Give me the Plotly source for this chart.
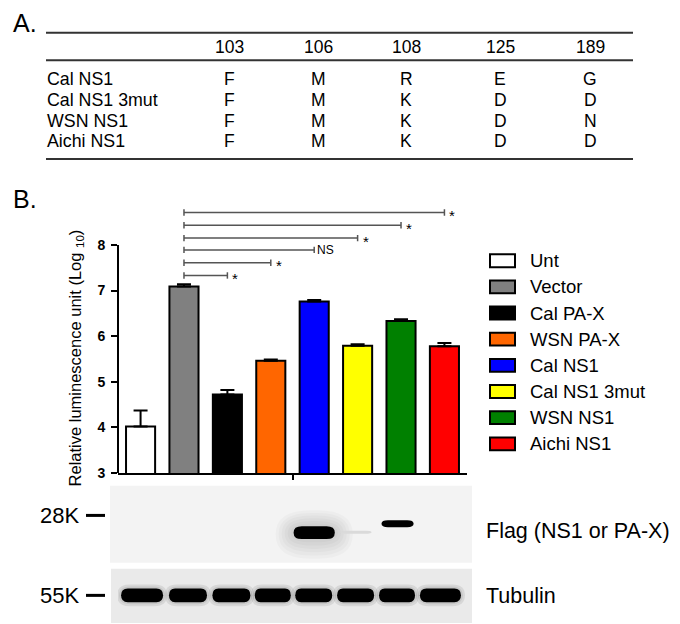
import plotly.graph_objects as go

W, H = 680, 624
FONT = "Liberation Sans, Arial, sans-serif"

# ---- panel A: residue table ----
sites = ["103", "106", "108", "125", "189"]
strains = ["Cal NS1", "Cal NS1 3mut", "WSN NS1", "Aichi NS1"]
residues = [
    ["F", "M", "R", "E", "G"],
    ["F", "M", "K", "D", "D"],
    ["F", "M", "K", "D", "N"],
    ["F", "M", "K", "D", "D"],
]

# ---- panel B: luciferase reporter ----
groups = ["Unt", "Vector", "Cal PA-X", "WSN PA-X", "Cal NS1",
          "Cal NS1 3mut", "WSN NS1", "Aichi NS1"]
log_lum = [4.02, 7.09, 4.72, 5.46, 6.76, 5.79, 6.33, 5.78]
sem = [0.35, 0.05, 0.10, 0.03, 0.03, 0.03, 0.04, 0.07]
colors = ["#ffffff", "#808080", "#000000", "#ff6600", "#0000ff",
          "#ffff00", "#008000", "#ff0000"]

# comparisons against Vector (index 1)
comp_to = [2, 3, 4, 5, 6, 7]
comp_y = [7.33, 7.61, 7.89, 8.15, 8.43, 8.71]
comp_lab = ["*", "*", "NS", "*", "*", "*"]

# western blot band strength per lane (0 = none)
flag_signal = [0, 0, 0, 0, 1.0, 0.12, 0.85, 0]
tubulin_signal = [1, 1, 1, 1, 1, 1, 1, 1]


def px(x):
    return x / W


def py(y):
    return 1 - y / H


def ann(text, x, y, size, xanchor="center", yanchor="middle", **kw):
    return dict(text=text, x=px(x), y=py(y), xref="paper", yref="paper",
                xanchor=xanchor, yanchor=yanchor, showarrow=False,
                font=dict(size=size, family=FONT, color="black"), **kw)


def band_path(x0, x1, y0, y1, r=0.12):
    rr = (x1 - x0) * r
    ym = (y0 + y1) / 2
    return (f"M{x0+rr},{y0} L{x1-rr},{y0} Q{x1},{y0} {x1},{ym} "
            f"Q{x1},{y1} {x1-rr},{y1} L{x0+rr},{y1} Q{x0},{y1} {x0},{ym} "
            f"Q{x0},{y0} {x0+rr},{y0} Z")


fig = go.Figure()
fig.add_trace(go.Bar(
    x=list(range(len(groups))), y=log_lum, width=0.67,
    marker=dict(color=colors, line=dict(color="black", width=2)),
    error_y=dict(type="data", array=sem, arrayminus=[0] * len(sem),
                 symmetric=False, color="black", thickness=2, width=7),
    hoverinfo="skip",
))

shapes = []
annotations = []

# table
col_x = [221, 310, 398, 492, 582]
for yy in (25, 53, 153):
    shapes.append(dict(type="line", xref="paper", yref="paper",
                       x0=px(38), x1=px(625), y0=py(yy), y1=py(yy),
                       line=dict(color="#333333", width=2)))
for s, cx in zip(sites, col_x):
    annotations.append(ann(s, cx, 40, 17.5))
for i, name in enumerate(strains):
    ry = 72 + 21 * i
    annotations.append(ann(name, 37, ry, 17.8, xanchor="left"))
    for aa, cx in zip(residues[i], col_x):
        annotations.append(ann(aa, cx, ry, 17.5))

annotations.append(ann("A.", 3, 15, 25, xanchor="left"))
annotations.append(ann("B.", 3, 193, 25, xanchor="left"))

# y axis line from 3 to 8 only
shapes.append(dict(type="line", xref="paper", yref="y", x0=px(110), x1=px(110),
                   y0=3, y1=8, line=dict(color="black", width=2)))

# significance brackets
cap = 0.07
for j, lab, yv in zip(comp_to, comp_lab, comp_y):
    shapes.append(dict(type="line", xref="x", yref="y", x0=1, x1=j, y0=yv, y1=yv,
                       line=dict(color="#555555", width=1.5)))
    for xe in (1, j):
        shapes.append(dict(type="line", xref="x", yref="y", x0=xe, x1=xe,
                           y0=yv - cap, y1=yv + cap,
                           line=dict(color="#555555", width=1.5)))
    if lab == "*":
        annotations.append(dict(text=lab, x=j, y=yv, xref="x", yref="y",
                                xanchor="left", yanchor="middle", showarrow=False,
                                xshift=3, yshift=-3,
                                font=dict(size=15, family=FONT, color="black")))
    else:
        annotations.append(dict(text=lab, x=j, y=yv, xref="x", yref="y",
                                xanchor="left", yanchor="middle", showarrow=False,
                                xshift=1,
                                font=dict(size=12, family=FONT, color="black")))

annotations.append(dict(text="Relative luminescence unit (Log <sub>10</sub>)",
                        x=px(68), y=py(355), xref="paper", yref="paper",
                        xanchor="center", yanchor="middle",
                        textangle=-90, showarrow=False,
                        font=dict(size=16.5, family=FONT, color="black")))

# legend
leg_y = [256, 282.5, 309, 335.5, 362, 388.5, 415, 441.5]
for name, col, ly in zip(groups, colors, leg_y):
    shapes.append(dict(type="rect", xref="paper", yref="paper",
                       x0=px(482), x1=px(507), y0=py(ly - 6.5), y1=py(ly + 6.5),
                       fillcolor=col, line=dict(color="black", width=2)))
    annotations.append(ann(name, 520, ly, 18.5, xanchor="left"))

# blots
shapes.append(dict(type="rect", xref="paper", yref="paper", layer="below",
                   x0=px(102), x1=px(464), y0=py(484), y1=py(562),
                   fillcolor="#f3f3f3", line=dict(width=0)))
shapes.append(dict(type="rect", xref="paper", yref="paper", layer="below",
                   x0=px(103), x1=px(464), y0=py(568), y1=py(623),
                   fillcolor="#eaeaea", line=dict(width=0)))

lane = 43.4
flag_geom = {4: (0.0, 0.95, 531.5, 13), 5: (-0.03, 0.7, 531, 3), 6: (-0.08, 0.74, 522.5, 7)}
for i, sig in enumerate(flag_signal):
    if sig <= 0:
        continue
    off, w, yc, h = flag_geom[i]
    cx = i + off
    if sig > 0.5 and h > 10:
        # soft glow round the strong band
        for grow in (18, 15, 12, 9, 6, 3):
            gx = grow / lane
            shapes.append(dict(type="path", xref="x", yref="paper",
                               path=band_path(cx - w / 2 - gx, cx + w / 2 + gx,
                                              py(yc - h / 2 - grow * 0.9),
                                              py(yc + h / 2 + grow * 1.1), 0.45),
                               fillcolor="black", opacity=0.025, line=dict(width=0)))
    fill = "#000000" if sig >= 0.5 else "#dadada"
    shapes.append(dict(type="path", xref="x", yref="paper",
                       path=band_path(cx - w / 2, cx + w / 2, py(yc - h / 2), py(yc + h / 2), 0.2),
                       fillcolor=fill, line=dict(width=0)))

tub_off = [1.5, 4, 4, 2, -0.5, -2, -4, -4]
tub_w = [42, 38, 38, 36, 37, 37, 36, 41]
for i, sig in enumerate(tubulin_signal):
    cx = i + tub_off[i] / lane
    w = tub_w[i] / lane
    for grow in (4, 2):
        shapes.append(dict(type="path", xref="x", yref="paper",
                           path=band_path(cx - w / 2 - grow / lane, cx + w / 2 + grow / lane,
                                          py(588 - grow), py(602 + grow), 0.25),
                           fillcolor="black", opacity=0.08, line=dict(width=0)))
    shapes.append(dict(type="path", xref="x", yref="paper",
                       path=band_path(cx - w / 2, cx + w / 2, py(588), py(602), 0.16),
                       fillcolor="#000000", opacity=sig, line=dict(width=0)))

for lab, yy in (("28K", 514), ("55K", 595)):
    annotations.append(ann(lab, 73, yy, 22, xanchor="right"))
    shapes.append(dict(type="line", xref="paper", yref="paper",
                       x0=px(78), x1=px(97), y0=py(yy), y1=py(yy),
                       line=dict(color="black", width=3)))
annotations.append(ann("Flag (NS1 or PA-X)", 476, 530, 21.5, xanchor="left"))
annotations.append(ann("Tubulin", 476, 596, 21.5, xanchor="left"))

fig.update_layout(
    width=W, height=H, margin=dict(l=0, r=0, t=0, b=0),
    plot_bgcolor="white", paper_bgcolor="white", showlegend=False,
    font=dict(family=FONT, color="black"),
    xaxis=dict(domain=[px(110), px(459)], range=[-0.52, 7.52],
               showline=True, linecolor="black", linewidth=2,
               tickvals=[3.5], ticks="outside", ticklen=5,
               tickwidth=1.5, tickcolor="black", showticklabels=False,
               showgrid=False, zeroline=False, fixedrange=True),
    yaxis=dict(domain=[py(471), py(198.4)], range=[3, 8.9],
               showline=False, tickvals=[3, 4, 5, 6, 7, 8],
               ticks="outside", ticklen=6, tickwidth=2, tickcolor="black",
               ticklabelstandoff=3,
               tickfont=dict(size=14, family=FONT, color="black", weight="bold"),
               showgrid=False, zeroline=False, fixedrange=True),
    shapes=shapes, annotations=annotations,
)

fig.write_html("out.html")
